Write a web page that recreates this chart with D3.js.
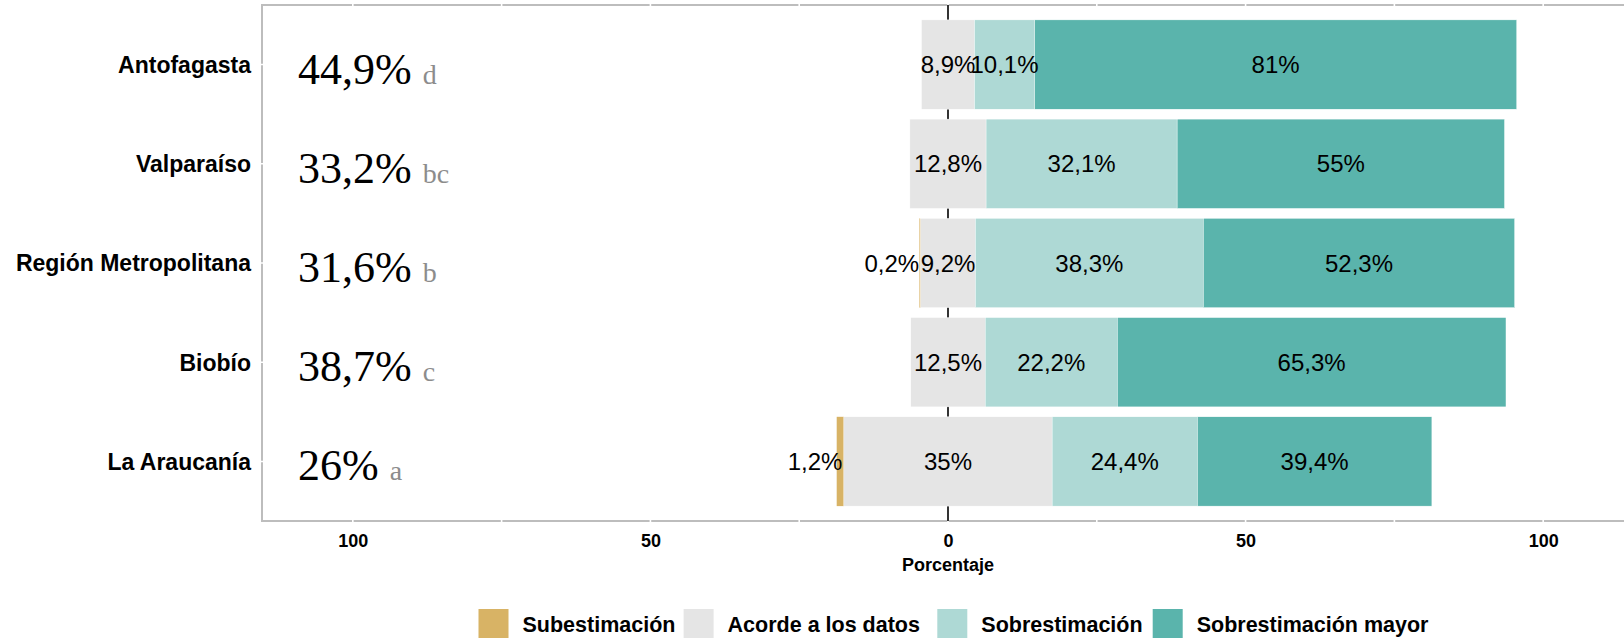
<!DOCTYPE html>
<html>
<head>
<meta charset="utf-8">
<script src="https://cdn.jsdelivr.net/npm/d3@7"></script>
<style>
  html, body { margin: 0; padding: 0; background: #ffffff; }
  svg { display: block; }
</style>
</head>
<body>
<svg id="chart" width="1624" height="638"></svg>
<script>
// ---------------- data ----------------
const regions    = ["Antofagasta", "Valparaíso", "Región Metropolitana", "Biobío", "La Araucanía"];
const subest     = [0, 0, 0.2, 0, 1.2];            // Subestimación
const acorde     = [8.9, 12.8, 9.2, 12.5, 35];     // Acorde a los datos
const sobre      = [10.1, 32.1, 38.3, 22.2, 24.4]; // Sobrestimación
const sobreMayor = [81, 55, 52.3, 65.3, 39.4];     // Sobrestimación mayor
const overallPct = [44.9, 33.2, 31.6, 38.7, 26];
const groupLetters = ["d", "bc", "b", "c", "a"];
const seriesNames = ["Subestimación", "Acorde a los datos", "Sobrestimación", "Sobrestimación mayor"];
const seriesColors = ["#D8B365", "#E5E5E5", "#AED9D5", "#5AB4AC"];
const xTickValues = [-100, -50, 0, 50, 100];
const xGridValues = [-100, -75, -50, -25, 0, 25, 50, 75, 100];
const xTitle = "Porcentaje";

// ---------------- helpers ----------------
const fmt = v => {
  const s = (Math.round(v * 10) / 10).toString();
  return s.replace(".", ",");
};

const svg = d3.select("#chart");
const W = 1624, H = 638;
const panel = { left: 262, right: 1634, top: 5, bottom: 521 };

const x = d3.scaleLinear().domain([-115.26, 115.26]).range([panel.left, panel.right]);
const y = d3.scalePoint().domain(regions).range([panel.top, panel.bottom]).padding(0.6);
const barH = y.step() * 0.9;

// build segments
const segs = [];
regions.forEach((r, i) => {
  const a0 = -acorde[i] / 2;
  const parts = [
    { k: 0, v: subest[i],     x0: a0 - subest[i], x1: a0 },
    { k: 1, v: acorde[i],     x0: a0, x1: -a0 },
    { k: 2, v: sobre[i],      x0: -a0, x1: -a0 + sobre[i] },
    { k: 3, v: sobreMayor[i], x0: -a0 + sobre[i], x1: -a0 + sobre[i] + sobreMayor[i] }
  ];
  parts.forEach(p => { p.region = r; segs.push(p); });
});

// ---------------- panel ----------------
svg.append("rect").attr("width", W).attr("height", H).attr("fill", "#ffffff");

svg.append("rect")
  .attr("x", panel.left).attr("y", panel.top)
  .attr("width", panel.right - panel.left).attr("height", panel.bottom - panel.top)
  .attr("fill", "none").attr("stroke", "#BDBDBD").attr("stroke-width", 2);

// white grid lines (only visible where they cross the border)
svg.append("g").selectAll("line").data(xGridValues).join("line")
  .attr("x1", d => x(d)).attr("x2", d => x(d))
  .attr("y1", panel.top - 2).attr("y2", panel.bottom + 2)
  .attr("stroke", "#ffffff").attr("stroke-width", 1.6);
svg.append("g").selectAll("line").data(regions).join("line")
  .attr("x1", panel.left - 2).attr("x2", panel.right)
  .attr("y1", d => y(d)).attr("y2", d => y(d))
  .attr("stroke", "#ffffff").attr("stroke-width", 1.6);

// zero line
svg.append("line")
  .attr("x1", x(0)).attr("x2", x(0))
  .attr("y1", panel.top).attr("y2", panel.bottom)
  .attr("stroke", "#000000").attr("stroke-width", 1.6);

// bars
svg.append("g").selectAll("rect").data(segs.filter(d => d.v > 0)).join("rect")
  .attr("x", d => x(d.x0))
  .attr("width", d => x(d.x1) - x(d.x0))
  .attr("y", d => y(d.region) - barH / 2)
  .attr("height", barH)
  .attr("fill", d => seriesColors[d.k])
  .attr("stroke", d => d.k === 0 ? "none" : "#ffffff")
  .attr("stroke-width", 0.4);

// bar labels
svg.append("g").selectAll("text").data(segs.filter(d => d.v > 0)).join("text")
  .attr("x", d => d.k === 0 ? x(d.x1) - 1.5 : x((d.x0 + d.x1) / 2))
  .attr("y", d => y(d.region))
  .attr("dy", "0.36em")
  .attr("text-anchor", d => d.k === 0 ? "end" : "middle")
  .attr("font-family", "Liberation Sans, Arial, sans-serif")
  .attr("font-size", 24)
  .attr("fill", "#000000")
  .text(d => fmt(d.v) + "%");

// overall percentages with group letters
const ov = svg.append("g").selectAll("text").data(regions).join("text")
  .attr("x", 298)
  .attr("y", d => y(d) + 19)
  .attr("font-family", "Liberation Serif, DejaVu Serif, serif")
  .style("font-variant-numeric", "oldstyle-nums");
ov.append("tspan")
  .attr("font-size", 44).attr("fill", "#000000")
  .text((d, i) => fmt(overallPct[i]) + "%");
ov.append("tspan")
  .attr("dx", 11)
  .attr("font-size", 28).attr("fill", "#8C8C8C")
  .text((d, i) => groupLetters[i]);

// y axis labels
svg.append("g").selectAll("text").data(regions).join("text")
  .attr("x", 251).attr("y", d => y(d)).attr("dy", "0.36em")
  .attr("text-anchor", "end")
  .attr("font-family", "Liberation Sans, Arial, sans-serif")
  .attr("font-weight", "bold").attr("font-size", 23)
  .attr("fill", "#000000")
  .text(d => d);

// x axis tick labels
const xAxis = d3.axisBottom(x).tickValues(xTickValues).tickSize(0).tickPadding(0)
  .tickFormat(d => Math.abs(d).toString());
const gx = svg.append("g").attr("transform", `translate(0,${panel.bottom})`).call(xAxis);
gx.select(".domain").remove();
gx.selectAll("text")
  .attr("y", 26).attr("dy", 0)
  .attr("font-family", "Liberation Sans, Arial, sans-serif")
  .attr("font-weight", "bold").attr("font-size", 18)
  .attr("fill", "#000000");

svg.append("text")
  .attr("x", (panel.left + panel.right) / 2).attr("y", 571)
  .attr("text-anchor", "middle")
  .attr("font-family", "Liberation Sans, Arial, sans-serif")
  .attr("font-weight", "bold").attr("font-size", 18)
  .text(xTitle);

// legend (key left edges as laid out in the original)
const legendKeyX = [478.5, 683.6, 937.3, 1152.7];
const lg = svg.append("g");
const keyY = 609, keySize = 30;
seriesNames.forEach((name, i) => {
  lg.append("rect")
    .attr("x", legendKeyX[i]).attr("y", keyY).attr("width", keySize).attr("height", keySize)
    .attr("fill", seriesColors[i]);
  lg.append("text")
    .attr("x", legendKeyX[i] + 44).attr("y", keyY + 15).attr("dy", "0.36em")
    .attr("font-family", "Liberation Sans, Arial, sans-serif")
    .attr("font-weight", "bold").attr("font-size", 21.5)
    .attr("fill", "#000000")
    .text(name);
});
</script>
</body>
</html>
